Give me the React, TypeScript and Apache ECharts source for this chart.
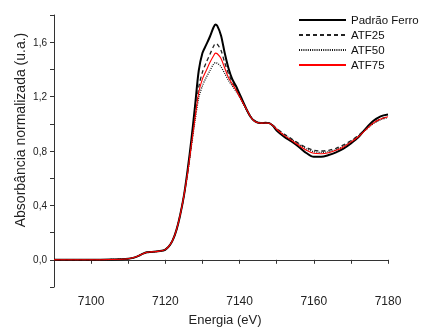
import React, { useEffect, useRef } from "react";
import * as echarts from "echarts";

const energy = [7090,7095,7100,7105,7110,7112,7114,7115,7116,7118,7119,7120,7121,7122,7123,7124,7125,7126,7127,7128,7129,7130,7131,7132,7133,7133.5,7134,7135,7136,7137,7138,7139,7140,7141,7142,7143,7144,7145,7146,7147,7148,7149,7150,7152,7154,7156,7158,7160,7162,7164,7166,7168,7170,7172,7174,7176,7178,7180];

const padrao = [0,0,0,0.002,0.008,0.02,0.045,0.055,0.058,0.062,0.066,0.075,0.1,0.145,0.22,0.33,0.47,0.66,0.88,1.13,1.39,1.52,1.58,1.64,1.71,1.73,1.72,1.65,1.52,1.41,1.33,1.28,1.22,1.16,1.1,1.05,1.02,1.008,1.005,1.007,1.005,0.985,0.95,0.905,0.87,0.83,0.785,0.757,0.757,0.77,0.79,0.817,0.855,0.9,0.965,1.02,1.055,1.068];
const atf25 = [0,0,0,0.002,0.008,0.02,0.045,0.055,0.058,0.062,0.066,0.075,0.1,0.145,0.22,0.33,0.47,0.645,0.85,1.06,1.27,1.38,1.45,1.51,1.57,1.59,1.585,1.54,1.45,1.37,1.31,1.26,1.205,1.15,1.1,1.055,1.025,1.012,1.008,1.008,1.005,0.99,0.965,0.925,0.89,0.855,0.825,0.805,0.8,0.805,0.82,0.845,0.875,0.915,0.96,1.005,1.035,1.05];
const atf50 = [0,0,0,0.002,0.008,0.02,0.045,0.055,0.058,0.062,0.066,0.075,0.1,0.145,0.22,0.33,0.47,0.63,0.83,1.02,1.19,1.28,1.34,1.39,1.44,1.45,1.445,1.42,1.37,1.32,1.28,1.24,1.195,1.145,1.095,1.05,1.022,1.01,1.006,1.006,1.003,0.988,0.962,0.92,0.885,0.85,0.815,0.795,0.79,0.795,0.81,0.835,0.87,0.91,0.955,1.0,1.03,1.045];
const atf75 = [0,0,0,0.002,0.008,0.02,0.045,0.055,0.058,0.062,0.066,0.075,0.1,0.145,0.22,0.33,0.47,0.635,0.84,1.04,1.23,1.33,1.39,1.45,1.5,1.52,1.515,1.48,1.41,1.34,1.295,1.25,1.2,1.15,1.1,1.05,1.02,1.008,1.005,1.006,1.004,0.987,0.96,0.915,0.878,0.84,0.805,0.783,0.78,0.787,0.805,0.83,0.865,0.905,0.955,1.005,1.035,1.052];

const seriesNames = ["Padrão Ferro", "ATF25", "ATF50", "ATF75"];
const FONT = "'Liberation Sans', Arial, sans-serif";

function zip(ys: number[]) {
  return energy.map((e, i) => [e, ys[i]]);
}

export default function App() {
  const ref = useRef<HTMLDivElement>(null);
  useEffect(() => {
    if (!ref.current) return;
    const chart = echarts.init(ref.current, null, { renderer: "svg" });
    const mk = (name: string, ys: number[], color: string, width: number, type: any) => ({
      name,
      type: "line",
      data: zip(ys),
      symbol: "none",
      smooth: 0.3,
      lineStyle: { color, width, type },
      itemStyle: { color },
    });
    chart.setOption({
      animation: false,
      textStyle: { fontFamily: FONT },
      grid: { left: 54, right: 35, top: 15, bottom: 40 },
      legend: {
        data: seriesNames,
        orient: "vertical",
        left: 293,
        top: 9,
        padding: 5,
        itemWidth: 47,
        itemHeight: 14,
        itemGap: 3,
        itemStyle: { opacity: 0 },
        textStyle: { fontFamily: FONT, fontSize: 11.5, color: "#111" },
      },
      xAxis: {
        type: "value",
        min: 7090,
        max: 7180,
        interval: 10,
        axisLine: { lineStyle: { color: "#333", width: 1 } },
        axisTick: { length: 4, lineStyle: { color: "#333" } },
        axisLabel: {
          margin: 8,
          fontSize: 12,
          color: "#222",
          fontFamily: FONT,
          formatter: (v: number) => (v % 20 === 0 ? String(v) : ""),
        },
        splitLine: { show: false },
      },
      yAxis: {
        type: "value",
        min: -0.2,
        max: 1.8,
        interval: 0.2,
        axisLine: { show: true, lineStyle: { color: "#333", width: 1 } },
        axisTick: { show: true, length: 4, lineStyle: { color: "#333" } },
        axisLabel: {
          margin: 7,
          fontSize: 10,
          color: "#222",
          fontFamily: FONT,
          formatter: (v: number) => {
            const t = Math.round(v * 10);
            return t % 4 === 0 ? (t / 10).toFixed(1).replace(".", ",") : "";
          },
        },
        splitLine: { show: false },
      },
      graphic: [
        {
          type: "text",
          x: 20,
          y: 130,
          rotation: Math.PI / 2,
          style: {
            text: "Absorbância normalizada (u.a.)",
            fontSize: 14,
            fontFamily: FONT,
            fill: "#222",
            textAlign: "center",
            textVerticalAlign: "middle",
          },
        },
        {
          type: "text",
          x: 225,
          y: 319,
          style: {
            text: "Energia (eV)",
            fontSize: 13,
            fontFamily: FONT,
            fill: "#222",
            textAlign: "center",
            textVerticalAlign: "middle",
          },
        },
      ],
      series: [
        mk(seriesNames[0], padrao, "#000", 2, "solid"),
        mk(seriesNames[1], atf25, "#222", 1.3, [4, 3]),
        mk(seriesNames[2], atf50, "#111", 1.3, [1, 1.2]),
        mk(seriesNames[3], atf75, "#ff0000", 1.1, "solid"),
      ],
    });
    return () => chart.dispose();
  }, []);
  return <div ref={ref} style={{ position: "fixed", left: 0, top: 0, width: 423, height: 327 }} />;
}
